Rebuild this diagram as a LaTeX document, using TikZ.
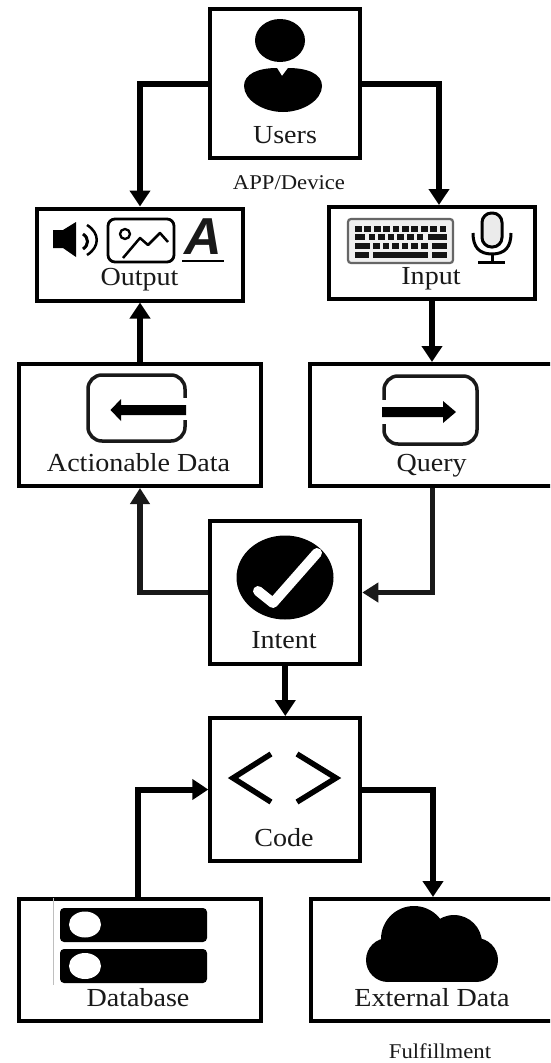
\documentclass[tikz,border=0pt]{standalone}
\usepackage{fontspec}
\setmainfont[FakeStretch=1.08]{Liberation Serif}
\newfontfamily\iconsans{Liberation Sans}
\usetikzlibrary{arrows.meta}
\tikzset{
  boxnode/.style={draw=black,line width=4pt,fill=white,inner sep=0pt},
  lbl/.style={anchor=base,inner sep=0pt,font=\fontsize{26}{30}\selectfont,text=black!90},
  small/.style={anchor=base,inner sep=0pt,font=\fontsize{21}{25}\selectfont,text=black!90},
  conn/.style={line width=6pt,draw=black,-{Triangle[length=16pt,width=20pt]}},
  connb/.style={line width=5.5pt,draw=black!90,-{Triangle[length=16pt,width=19pt]}},
  key/.style={fill=black!92,draw=none},
  iconline/.style={draw=black!90,line width=3.5pt,rounded corners=14pt}
}
\begin{document}
\begin{tikzpicture}[x=1pt,y=-1pt]
\useasboundingbox (0,0) rectangle (550,1063);
\clip (0,0) rectangle (550,1063);
\fill[white] (0,0) rectangle (550,1063);
% boxes
\node[boxnode,minimum width=150pt,minimum height=149pt] (users) at (285.3,83.5) {};
\node[boxnode,minimum width=206pt,minimum height=92pt] (output) at (140,254.5) {};
\node[boxnode,minimum width=206pt,minimum height=92pt] (input) at (432,253) {};
\node[boxnode,minimum width=242pt,minimum height=122pt] (actionable) at (140,425) {};
\node[boxnode,minimum width=280pt,minimum height=122pt] (query) at (450,425) {};
\node[boxnode,minimum width=150pt,minimum height=143pt] (intent) at (285.3,592.5) {};
\node[boxnode,minimum width=150pt,minimum height=143pt] (code) at (285.3,789.5) {};
\node[boxnode,minimum width=242pt,minimum height=122pt] (database) at (140,960) {};
\node[boxnode,minimum width=280pt,minimum height=122pt] (external) at (451,960) {};
% free connector ends
\coordinate (inputTop) at (439,205);
\coordinate (queryOut) at (432.6,488);
\coordinate (extTop) at (433,897);
\coordinate (dbOut) at (137.5,897);
% connectors
\draw[conn] (users.west) -| (output.north);
\draw[conn] (users.east) -| (inputTop);
\draw[conn] (input.south) -- (input.south |- query.north);
\draw[conn] (actionable.north) -- (output.south);
\draw[connb] (intent.west) -| (actionable.south);
\draw[connb] (queryOut) |- (intent.east);
\draw[conn] (intent.south) -- (code.north);
\draw[conn] (dbOut) |- (code.west);
\draw[conn] (code.east) -| (extTop);
% user icon
\fill[black] (280,40.5) ellipse [x radius=25,y radius=21.5];
\fill[black] (244,86) .. controls (244,74) and (258,68) .. (277,68) -- (282,76) -- (288,68)
  .. controls (308,68) and (322,74) .. (322,86) .. controls (322,100) and (303,112) .. (283,112)
  .. controls (263,112) and (244,100) .. (244,86) -- cycle;
% speaker
\fill[black] (53,230) -- (63,230) -- (76,222) -- (76,257) -- (63,248) -- (53,248) -- cycle;
\draw[black,line width=3pt] (83,234) .. controls (89,238) and (89,245) .. (83,249);
\draw[black,line width=2.5pt] (87,225) .. controls (100,233) and (100,247) .. (87,255);
% picture
\draw[black,line width=2.8pt,rounded corners=7pt] (108,219) rectangle (174,262);
\draw[black,line width=2.3pt] (125,234) circle [radius=5];
\draw[black,line width=2.5pt,line join=round] (123,258) -- (140,238) -- (148,245) -- (160,233) -- (168,242);
% A
\node[inner sep=0pt,font=\iconsans\bfseries\itshape\fontsize{52}{52}\selectfont,text=black!90] (letterA) at (203,237) {A};
\draw[black,line width=2.5pt] (182,261) -- (224,261);
% keyboard
\draw[draw=black!60,fill=black!6,line width=2.2pt,rounded corners=3pt] (348,219) rectangle (453,263);
\foreach \i in {0,...,9} \fill[key] ({355+\i*9.4},225.5) rectangle ++(6.8,6);
\fill[key] (355,234) rectangle (365,240);
\foreach \i in {0,...,5} \fill[key] ({368.5+\i*9.6},234) rectangle ++(6.6,6);
\fill[key] (428,234) rectangle (447,240);
\fill[key] (355,243) rectangle (370,249);
\foreach \i in {0,...,5} \fill[key] ({373+\i*9.6},243) rectangle ++(6.6,6);
\fill[key] (432,243) rectangle (447,249);
\fill[key] (355,252) rectangle (369,258);
\fill[key] (373,252) rectangle (428,258);
\fill[key] (432,252) rectangle (447,258);
% microphone
\draw[black,line width=3pt,fill=black!8,rounded corners=9.5pt] (482,213) rectangle (502,247);
\draw[black,line width=3pt] (473,233) .. controls (473,247) and (479,254) .. (492,254) .. controls (505,254) and (511,247) .. (511,233);
\draw[black,line width=3pt] (492,254) -- (492,262);
\draw[black,line width=3pt] (478,262) -- (505,262);
% actionable icon
\draw[iconline] (88,375) rectangle (185,441);
\fill[white] (180,398) rectangle (190,420);
\fill[black] (186,405) -- (121,405) -- (121,399) -- (110.5,410) -- (121,421) -- (121,415) -- (186,415) -- cycle;
% query icon
\draw[iconline] (384,376) rectangle (477,444);
\fill[white] (379,400) rectangle (389,424);
\fill[black] (382,407) -- (443,407) -- (443,401) -- (456,412) -- (443,423) -- (443,417) -- (382,417) -- cycle;
% intent icon
\fill[black] (285,577.5) ellipse [x radius=48.5,y radius=42];
\draw[white,line width=10pt,line cap=round,line join=round] (258,591) -- (273,603) -- (317,553);
% code icon
\draw[black,line width=5.5pt] (271,754) -- (233,778) -- (271,802);
\draw[black,line width=5.5pt] (297,754) -- (336,778) -- (297,802);
% database icon
\draw[black!25,line width=1pt] (53.7,898) -- (53.7,985);
\fill[black,rounded corners=4pt] (60,908) rectangle (207,942);
\fill[black,rounded corners=4pt] (60,949) rectangle (207,983);
\fill[white] (85,924.5) ellipse [x radius=16,y radius=13];
\fill[white] (85,966) ellipse [x radius=16,y radius=13];
% cloud icon
\fill[black] (414,939) circle [radius=33];
\fill[black] (454,943) circle [radius=28];
\fill[black] (388,960) circle [radius=22];
\fill[black] (476,960) circle [radius=22];
\fill[black] (388,945) rectangle (476,982);
% labels
\node[lbl] (lusers) at (285,143) {Users};
\node[small] (lapp) at (289,189) {APP/Device};
\node[lbl] (loutput) at (139.5,285) {Output};
\node[lbl] (linput) at (431,284) {Input};
\node[lbl] (lact) at (138.6,471) {Actionable Data};
\node[lbl] (lquery) at (431.6,471) {Query};
\node[lbl] (lintent) at (284,648) {Intent};
\node[lbl] (lcode) at (284,846) {Code};
\node[lbl] (ldb) at (138,1006) {Database};
\node[lbl] (lext) at (432,1006) {External Data};
\node[small] (lful) at (440,1058) {Fulfillment};
\end{tikzpicture}
\end{document}
